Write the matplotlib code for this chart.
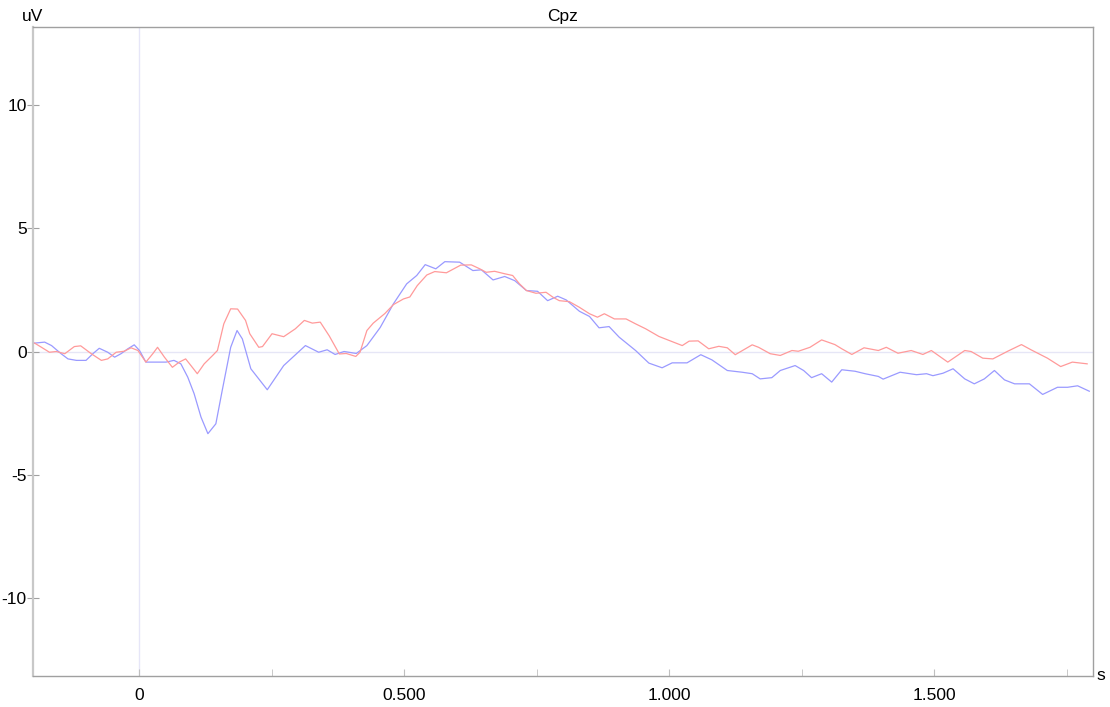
import matplotlib.pyplot as plt
import numpy as np

plt.rcParams['font.family'] = ['Liberation Sans', 'DejaVu Sans']

# ERP at Cpz, time in ms, amplitude in uV
blue_t = [-197, -178, -165, -147, -134, -118, -100, -87, -75, -59, -46, -34, -21, -9,
          1, 13, 32, 51, 66, 79, 92, 104, 117, 130, 145, 157, 173, 185, 195, 211,
          242, 273, 314, 339, 355, 370, 387, 410, 430, 455, 480, 505, 524, 540,
          560, 577, 605, 630, 646, 668, 690, 709, 731, 752, 771, 790, 806, 831,
          850, 868, 887, 906, 937, 962, 987, 1006, 1034, 1060, 1081, 1110, 1138,
          1157, 1172, 1194, 1210, 1238, 1254, 1269, 1288, 1307, 1326, 1351, 1370,
          1395, 1404, 1436, 1467, 1486, 1498, 1517, 1536, 1558, 1576, 1595, 1614,
          1633, 1652, 1680, 1705, 1733, 1752, 1771, 1793]
blue_v = [0.34, 0.38, 0.24, -0.09, -0.30, -0.36, -0.36, -0.09, 0.13, -0.03, -0.23, -0.09,
          0.11, 0.27, 0.04, -0.43, -0.43, -0.43, -0.36, -0.50, -1.04, -1.71, -2.66,
          -3.33, -2.93, -1.58, 0.17, 0.85, 0.51, -0.70, -1.55, -0.57, 0.24, -0.03,
          0.07, -0.12, 0.0, -0.08, 0.24, 0.97, 1.93, 2.74, 3.08, 3.52, 3.35, 3.64,
          3.62, 3.28, 3.31, 2.90, 3.04, 2.87, 2.47, 2.44, 2.06, 2.24, 2.09, 1.63,
          1.42, 0.96, 1.01, 0.58, 0.04, -0.47, -0.66, -0.46, -0.46, -0.13, -0.34,
          -0.77, -0.84, -0.90, -1.11, -1.06, -0.77, -0.57, -0.77, -1.06, -0.90,
          -1.24, -0.74, -0.80, -0.90, -1.01, -1.12, -0.84, -0.94, -0.90, -0.98,
          -0.88, -0.70, -1.11, -1.31, -1.11, -0.77, -1.15, -1.31, -1.31, -1.74,
          -1.45, -1.45, -1.39, -1.61]

red_t = [-197, -184, -169, -156, -140, -122, -110, -90, -71, -59, -43, -28, -15, -2,
         13, 26, 35, 48, 63, 76, 88, 98, 110, 123, 139, 148, 160, 173, 186, 201,
         209, 226, 233, 251, 273, 295, 312, 327, 342, 359, 378, 391, 409, 417,
         430, 442, 464, 480, 499, 511, 525, 543, 558, 580, 607, 627, 643, 655,
         671, 690, 705, 718, 731, 749, 768, 781, 793, 812, 831, 850, 865, 878,
         897, 919, 937, 956, 981, 1000, 1025, 1038, 1055, 1075, 1094, 1110, 1125,
         1157, 1169, 1191, 1210, 1232, 1244, 1266, 1288, 1313, 1326, 1345, 1368,
         1395, 1410, 1432, 1457, 1479, 1495, 1526, 1558, 1570, 1592, 1611, 1639,
         1665, 1683, 1714, 1739, 1761, 1789]
red_v = [0.34, 0.17, -0.03, 0.0, -0.09, 0.20, 0.23, -0.09, -0.36, -0.30, -0.03, 0.01,
         0.15, 0.04, -0.43, -0.09, 0.17, -0.23, -0.64, -0.43, -0.30, -0.57, -0.90,
         -0.50, -0.16, 0.04, 1.12, 1.73, 1.72, 1.26, 0.72, 0.17, 0.20, 0.72, 0.60,
         0.92, 1.26, 1.15, 1.19, 0.63, -0.10, -0.08, -0.20, -0.03, 0.85, 1.15,
         1.54, 1.90, 2.13, 2.21, 2.67, 3.10, 3.24, 3.19, 3.50, 3.51, 3.35, 3.21,
         3.25, 3.15, 3.08, 2.74, 2.47, 2.36, 2.40, 2.20, 2.06, 2.02, 1.79, 1.53,
         1.39, 1.53, 1.32, 1.32, 1.12, 0.92, 0.61, 0.45, 0.24, 0.42, 0.43, 0.11,
         0.21, 0.15, -0.13, 0.27, 0.17, -0.09, -0.16, 0.04, 0.01, 0.17, 0.47, 0.28,
         0.11, -0.12, 0.15, 0.04, 0.17, -0.07, 0.04, -0.12, 0.04, -0.43, 0.04, 0.0,
         -0.27, -0.30, 0.01, 0.28, 0.07, -0.27, -0.61, -0.43, -0.50]

yticks = [-10, -5, 0, 5, 10]
xticks_major = [0, 0.5, 1.0, 1.5]
xtick_labels = ['0', '0.500', '1.000', '1.500']
xticks_minor = [0.25, 0.75, 1.25, 1.75]

fig = plt.figure(figsize=(11.1, 7.07), dpi=100)
ax = fig.add_axes([33 / 1110, 31 / 707, 1060 / 1110, 649 / 707])

ax.axhline(0, color='#e6e6f6', lw=1, zorder=1)
ax.axvline(0, color='#e6e6f8', lw=1, zorder=1)

ax.plot(np.array(blue_t) / 1000, blue_v, color='#9a9aff', lw=0.9, zorder=3)
ax.plot(np.array(red_t) / 1000, red_v, color='#ff9a9a', lw=0.9, zorder=3)

ax.set_xlim(-0.2, 1.8)
ax.set_ylim(-13.15, 13.15)

for s in ax.spines.values():
    s.set_color('#a0a0a0')
    s.set_linewidth(1)
ax.spines['left'].set_color('#c8c8c8')
ax.spines['left'].set_linewidth(1.6)

ax.set_yticks(yticks)
ax.set_yticklabels([str(v) for v in yticks])
ax.tick_params(axis='y', direction='inout', length=9, color='#a0a0a0',
               labelsize=12.5, pad=0)

ax.set_xticks(xticks_major)
ax.set_xticklabels(xtick_labels)
ax.set_xticks(xticks_minor, minor=True)
ax.tick_params(axis='x', which='both', direction='in', length=5, color='#c0c0c0',
               labelsize=12.5, pad=9)

ax.text(0.0, 1.005, 'uV', transform=ax.transAxes, ha='center', va='bottom', fontsize=12.5)
ax.text(0.5, 1.005, 'Cpz', transform=ax.transAxes, ha='center', va='bottom', fontsize=12.5)
ax.text(1.0075, 0.0, 's', transform=ax.transAxes, ha='center', va='center', fontsize=12.5)

fig.savefig('out.png', dpi=100, facecolor='white')
